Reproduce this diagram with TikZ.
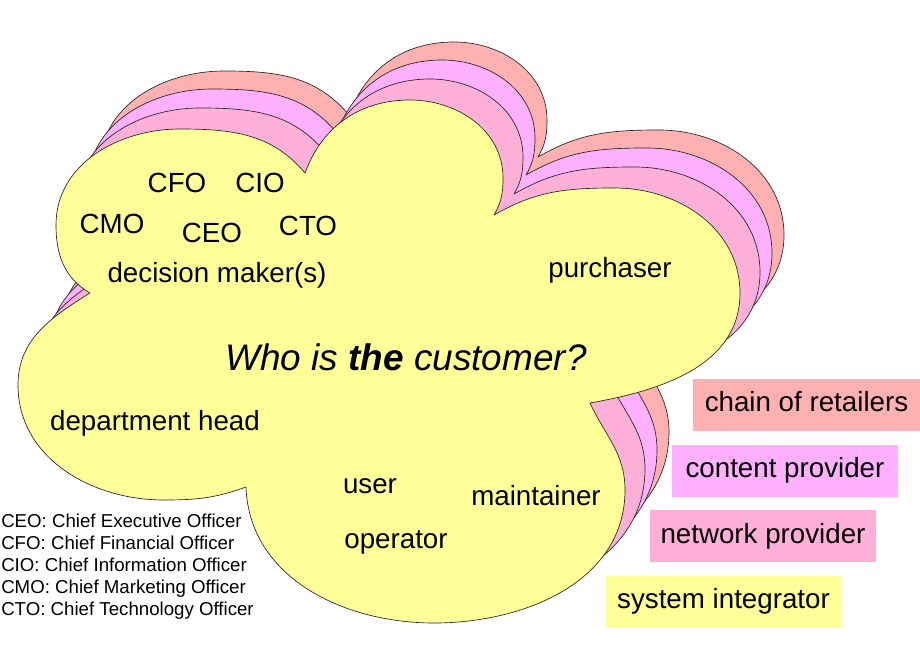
\documentclass[tikz,border=0pt]{standalone}
\usepackage{fontspec}
\setmainfont{Liberation Sans}
\usepackage{tikz}
\usetikzlibrary{positioning}
\definecolor{cuSalmon}{HTML}{FFB0B0}
\definecolor{cuViolet}{HTML}{FFB0FF}
\definecolor{cuPink}{HTML}{FFB0D8}
\definecolor{cuYellow}{HTML}{FFFF99}
\tikzset{
  cu/cloud/.style={draw=black!85, line width=0.5pt, line join=round},
  cu/role/.style={inner sep=0pt, anchor=base, font=\fontsize{20.8}{25}\selectfont},
  cu/question/.style={inner sep=0pt, anchor=base, font=\fontsize{27.7}{32}\selectfont\itshape},
  cu/legend/.style={inner sep=0pt, anchor=base west, font=\fontsize{14}{16.5}\selectfont},
  cu/box/.style={inner sep=0pt, minimum height=39pt, text height=15pt, text depth=4pt,
    font=\fontsize{20.8}{25}\selectfont}
}
\newcommand{\cloudpath}{%
  (90,-293) to[out=150,in=-90] (56,-225)
  to[out=90,in=180] (180,-129)
  to[out=0,in=130] (305,-173)
  to[out=70,in=180] (410,-100)
  to[out=0,in=90] (503,-178)
  to[out=-90,in=60] (494,-215)
  to[out=30,in=180] (615,-188)
  to[out=0,in=90] (740,-293)
  to[out=-90,in=10] (590,-403)
  to[out=-65,in=90] (625,-490)
  to[out=-90,in=0] (434,-623)
  to[out=180,in=-88] (246,-487)
  to[out=200,in=0] (164,-500)
  to[out=180,in=-90] (18,-385)
  to[out=90,in=212] (90,-293) -- cycle}

\begin{document}
\begin{tikzpicture}[x=0.75pt, y=0.75pt]
  \useasboundingbox (0,0) rectangle (920,-660);
  \foreach \dx/\dy/\col in {44/58/cuSalmon, 32/40/cuViolet, 20/21/cuPink, 0/0/cuYellow}
    \draw[cu/cloud, fill=\col, shift={(\dx,\dy)}] \cloudpath;

  \node[cu/role] (cfo) at (177,-192) {CFO};
  \node[cu/role] (cio) at (260,-192) {CIO};
  \node[cu/role] (cmo) at (112,-233) {CMO};
  \node[cu/role] (ceo) at (212,-242) {CEO};
  \node[cu/role] (cto) at (308,-235) {CTO};
  \node[cu/role] (dm) at (217,-282) {decision maker(s)};
  \node[cu/role] (purch) at (610,-277) {purchaser};
  \node[cu/question] (who) at (406,-370) {Who is \textbf{the} customer?};
  \node[cu/role] (dept) at (155,-430) {department head};
  \node[cu/role] (user) at (370,-493) {user};
  \node[cu/role] (maint) at (536,-505) {maintainer};
  \node[cu/role] (oper) at (396,-548) {operator};

  \foreach \abbr/\full [count=\i] in {CEO/Executive, CFO/Financial, CIO/Information, CMO/Marketing, CTO/Technology}
    \node[cu/legend] (leg\i) at (1,{-527-22*(\i-1)}) {\abbr: Chief \full\ Officer};

  \node[cu/box, fill=cuSalmon, minimum width=170pt] (chain) at (806.5,-404.5) {chain of retailers};
  \node[cu/box, fill=cuViolet, minimum width=169.5pt] (content) at (785,-470.5) {content provider};
  \node[cu/box, fill=cuPink, minimum width=169.5pt] (network) at (763,-536) {network provider};
  \node[cu/box, fill=cuYellow, minimum width=176pt] (integ) at (723.5,-601.5) {system integrator};
\end{tikzpicture}
\end{document}
